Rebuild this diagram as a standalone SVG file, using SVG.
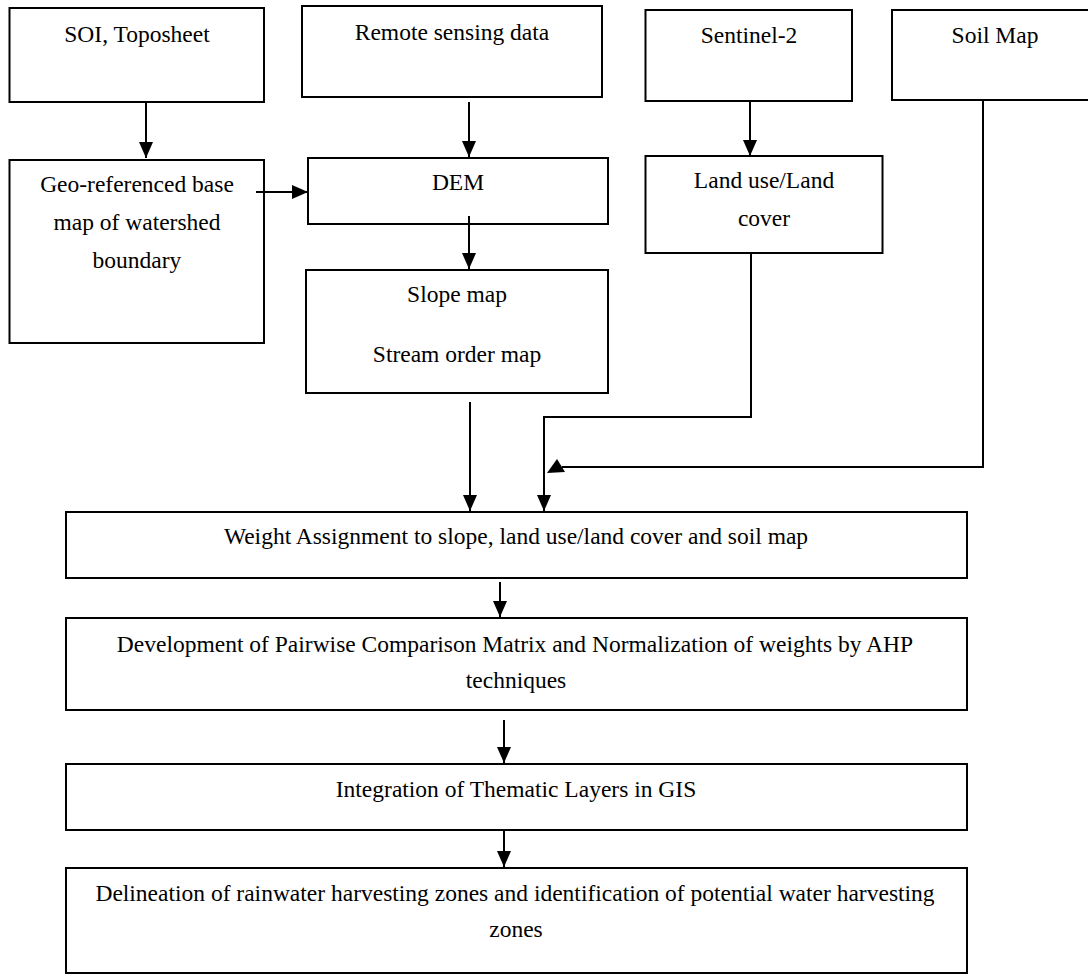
<svg xmlns="http://www.w3.org/2000/svg" width="1088" height="974" viewBox="0 0 1088 974">
<style>
.box{fill:#fff;stroke:#000;stroke-width:2}
.t{font-family:'Liberation Serif','Times New Roman',Times,'DejaVu Serif',serif;font-size:23.5px;fill:#000;text-anchor:middle}
.ln{fill:none;stroke:#000;stroke-width:2}
</style>
<defs>
<marker id="ah" markerWidth="16" markerHeight="14" viewBox="0 0 16 14" refX="16" refY="7" orient="auto" markerUnits="userSpaceOnUse">
<path d="M0,0 L16,7 L0,14 Z" fill="#000"/>
</marker>
</defs>
<rect width="1088" height="974" fill="#fff"/>
<g id="soi"><rect class="box" x="9.5" y="8" width="254.5" height="94"/><text class="t" font-family="Liberation Serif, serif" x="137" y="42">SOI, Toposheet</text></g>
<g id="remote"><rect class="box" x="302" y="6" width="300" height="91"/><text class="t" x="452" y="40">Remote sensing data</text></g>
<g id="sentinel"><rect class="box" x="645.5" y="10" width="206.5" height="91"/><text class="t" x="749" y="43">Sentinel-2</text></g>
<g id="soil"><rect class="box" x="892" y="10" width="206" height="90"/><text class="t" x="995" y="43">Soil Map</text></g>
<g id="geo"><rect class="box" x="9.5" y="160" width="254.5" height="183"/><text class="t" x="137" y="192">Geo-referenced base</text><text class="t" x="137" y="230">map of watershed</text><text class="t" x="137" y="268">boundary</text></g>
<g id="dem"><rect class="box" x="308" y="158" width="300" height="66"/><text class="t" x="458" y="190">DEM</text></g>
<g id="slope"><rect class="box" x="306" y="270" width="302" height="123"/><text class="t" x="457" y="302">Slope map</text><text class="t" x="457" y="362">Stream order map</text></g>
<g id="landuse"><rect class="box" x="645.5" y="156" width="237" height="97"/><text class="t" x="764" y="188">Land use/Land</text><text class="t" x="764" y="226">cover</text></g>
<g id="weight"><rect class="box" x="66" y="512" width="901" height="66"/><text class="t" x="516" y="544">Weight Assignment to slope, land use/land cover and soil map</text></g>
<g id="pairwise"><rect class="box" x="66" y="618" width="901" height="92"/><text class="t" x="515" y="652">Development of Pairwise Comparison Matrix and Normalization of weights by AHP</text><text class="t" x="516" y="688">techniques</text></g>
<g id="integration"><rect class="box" x="66" y="764" width="901" height="66"/><text class="t" x="516" y="797">Integration of Thematic Layers in GIS</text></g>
<g id="delineation"><rect class="box" x="66" y="868" width="901" height="105"/><text class="t" x="515" y="901">Delineation of rainwater harvesting zones and identification of potential water harvesting</text><text class="t" x="516" y="937">zones</text></g>
<g id="connectors">
<line class="ln" x1="146" y1="103" x2="146" y2="158" marker-end="url(#ah)"/>
<line class="ln" x1="469" y1="102" x2="469" y2="157" marker-end="url(#ah)"/>
<line class="ln" x1="256" y1="192" x2="308" y2="192" marker-end="url(#ah)"/>
<line class="ln" x1="469" y1="216" x2="469" y2="269" marker-end="url(#ah)"/>
<line class="ln" x1="750" y1="101" x2="750" y2="156" marker-end="url(#ah)"/>
<line class="ln" x1="470" y1="402" x2="470" y2="511" marker-end="url(#ah)"/>
<polyline class="ln" points="751,253 751,417 544,417 544,511" marker-end="url(#ah)"/>
<polyline class="ln" points="983,101 983,467 562,467"/>
<polygon points="547,473 557,459 565,472" fill="#000"/>
<line class="ln" x1="500" y1="582" x2="500" y2="617" marker-end="url(#ah)"/>
<line class="ln" x1="504" y1="720" x2="504" y2="763" marker-end="url(#ah)"/>
<line class="ln" x1="504" y1="830" x2="504" y2="867" marker-end="url(#ah)"/>
</g>
</svg>
